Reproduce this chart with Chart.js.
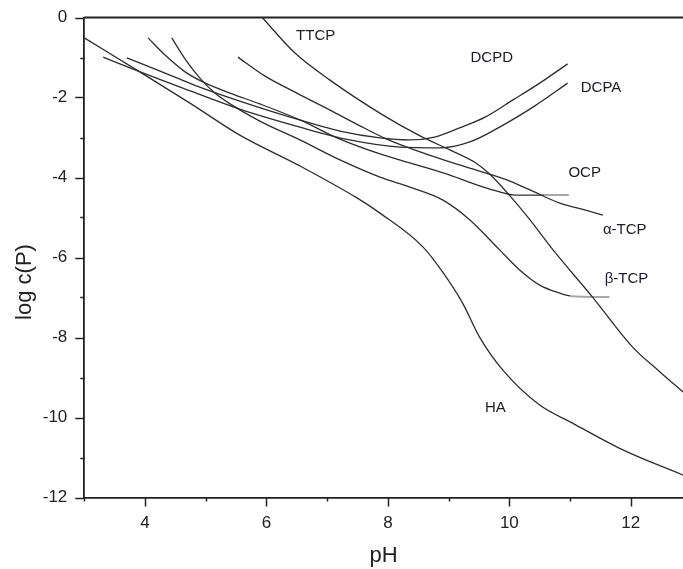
<!DOCTYPE html>
<html>
<head>
<meta charset="utf-8">
<script src="https://cdn.jsdelivr.net/npm/chart.js@4"></script>
<style>
  body { margin: 0; background: #fff; }
  canvas { display: block; }
</style>
</head>
<body>
<canvas id="myLineChart" width="683" height="569"></canvas>
<script>
/* SOLUBILITY ISOTHERMS - log c(P) vs pH */

// pH and log c(P), one pair of arrays per phase
var haPH   = [3.00, 4.00, 4.74, 5.56, 6.55, 7.49, 7.87, 8.58, 8.90, 9.23, 9.51, 9.89, 10.50, 11.04, 11.87, 12.86];
var haLogC = [-0.51, -1.44, -2.14, -2.94, -3.71, -4.51, -4.89, -5.74, -6.36, -7.14, -7.99, -8.81, -9.69, -10.14, -10.81, -11.44];

var ttcpPH   = [5.93, 6.47, 7.04, 7.92, 8.53, 9.02, 9.43, 9.68, 10.01, 10.34, 10.72, 11.37, 12.03, 12.48, 12.86];
var ttcpLogC = [0, -0.89, -1.56, -2.44, -2.96, -3.31, -3.62, -3.92, -4.46, -5.06, -5.81, -6.99, -8.24, -8.86, -9.36];

var dcpdPH   = [3.70, 4.33, 4.90, 5.56, 6.39, 7.21, 7.87, 8.36, 8.77, 9.18, 9.60, 10.06, 10.50, 10.96];
var dcpdLogC = [-1.01, -1.39, -1.74, -2.09, -2.49, -2.84, -3.01, -3.06, -2.99, -2.76, -2.49, -2.06, -1.64, -1.16];

var dcpaPH   = [3.31, 3.92, 4.58, 5.56, 6.55, 7.37, 8.20, 8.86, 9.35, 9.84, 10.42, 10.96];
var dcpaLogC = [-0.99, -1.36, -1.74, -2.29, -2.74, -3.06, -3.24, -3.26, -3.11, -2.74, -2.21, -1.64];

var ocpPH   = [4.05, 4.33, 4.66, 4.95, 5.40, 5.89, 6.55, 7.21, 7.87, 8.53, 9.02, 9.51, 9.84, 10.09, 10.58, 10.98];
var ocpLogC = [-0.51, -0.94, -1.36, -1.61, -1.89, -2.16, -2.56, -3.04, -3.41, -3.71, -3.94, -4.21, -4.36, -4.44, -4.44, -4.44];

var aTcpPH   = [5.53, 5.97, 6.50, 7.04, 7.54, 7.98, 8.53, 9.02, 9.51, 9.96, 10.34, 10.83, 11.24, 11.54];
var aTcpLogC = [-0.99, -1.46, -1.89, -2.31, -2.71, -3.04, -3.36, -3.61, -3.84, -4.06, -4.31, -4.64, -4.81, -4.94];

var bTcpPH   = [4.44, 4.67, 4.90, 5.15, 5.40, 5.89, 6.55, 7.21, 7.87, 8.36, 8.90, 9.35, 9.84, 10.17, 10.50, 10.83, 11.00, 11.65];
var bTcpLogC = [-0.51, -1.06, -1.51, -1.89, -2.16, -2.59, -3.06, -3.56, -3.99, -4.24, -4.56, -5.06, -5.81, -6.31, -6.69, -6.89, -6.96, -6.99];

// axis ranges and tick labels
var xMin = 3, xMax = 12.86;
var yMin = -12, yMax = 0;
var xTickLabels = [4, 6, 8, 10, 12];
var yTickLabels = [0, -2, -4, -6, -8, -10, -12];

// curve names written on the plot (pH, log c)
var curveLabels = [
  { text: 'TTCP',  x: 6.81,  y: -0.46 },
  { text: 'DCPD',  x: 9.71,  y: -1.01 },
  { text: 'DCPA',  x: 11.51, y: -1.76 },
  { text: 'OCP',   x: 11.24, y: -3.89 },
  { text: 'α-TCP', x: 11.90, y: -5.31 },
  { text: 'β-TCP', x: 11.93, y: -6.54 },
  { text: 'HA',    x: 9.77,  y: -9.76 }
];

Chart.defaults.font.family = "'Liberation Sans', Arial, sans-serif";
Chart.defaults.color = '#222';

function toPoints(xs, ys) {
  return xs.map(function (x, i) { return { x: x, y: ys[i] }; });
}

var lineColor = '#2e2e2e';

// last piece of OCP and beta-TCP is drawn in light grey
function curve(label, xs, ys, greyTail) {
  var last = xs.length - 1;
  return {
    label: label,
    data: toPoints(xs, ys),
    showLine: true,
    borderColor: lineColor,
    borderWidth: 1.3,
    pointRadius: 0,
    cubicInterpolationMode: 'monotone',
    segment: {
      borderColor: function (ctx) {
        return (greyTail && ctx.p1DataIndex === last) ? '#a8a8a8' : lineColor;
      },
      borderWidth: function (ctx) {
        return (greyTail && ctx.p1DataIndex === last) ? 2 : 1.3;
      }
    }
  };
}

// top frame line, tick marks (long = labelled, short = minor), curve names, y title
var extras = {
  id: 'extras',
  afterDraw: function (chart) {
    var ctx = chart.ctx;
    var a = chart.chartArea;
    var xs = chart.scales.x, ys = chart.scales.y;
    ctx.save();
    ctx.strokeStyle = '#222';
    ctx.lineWidth = 1.8;
    ctx.beginPath();
    ctx.moveTo(a.left, a.top);
    ctx.lineTo(a.right, a.top);
    ctx.stroke();

    ctx.lineWidth = 1.5;
    for (var v = 3; v <= 12; v++) {
      var px = Math.round(xs.getPixelForValue(v)) + 0.5;
      var len = xTickLabels.indexOf(v) >= 0 ? 9 : 4;
      ctx.beginPath();
      ctx.moveTo(px, a.bottom);
      ctx.lineTo(px, a.bottom + len);
      ctx.stroke();
    }
    for (var w = yMin; w <= yMax; w++) {
      var py = Math.round(ys.getPixelForValue(w)) + 0.5;
      var l2 = yTickLabels.indexOf(w) >= 0 ? 9 : 4;
      ctx.beginPath();
      ctx.moveTo(a.left, py);
      ctx.lineTo(a.left - l2, py);
      ctx.stroke();
    }

    ctx.fillStyle = '#1c1c2a';
    ctx.font = "15px 'Liberation Sans', Arial, sans-serif";
    ctx.textAlign = 'center';
    ctx.textBaseline = 'middle';
    curveLabels.forEach(function (c) {
      ctx.fillText(c.text, xs.getPixelForValue(c.x), ys.getPixelForValue(c.y));
    });

    ctx.translate(25, 282);
    ctx.rotate(-Math.PI / 2);
    ctx.font = "22px 'Liberation Sans', Arial, sans-serif";
    ctx.fillStyle = '#222';
    ctx.fillText('log c(P)', 0, 0);
    ctx.restore();
  }
};

var ctxLine = document.getElementById('myLineChart').getContext('2d');

var myLineChart = new Chart(ctxLine, {
  type: 'scatter',
  data: {
    datasets: [
      curve('HA', haPH, haLogC, false),
      curve('TTCP', ttcpPH, ttcpLogC, false),
      curve('DCPD', dcpdPH, dcpdLogC, false),
      curve('DCPA', dcpaPH, dcpaLogC, false),
      curve('OCP', ocpPH, ocpLogC, true),
      curve('α-TCP', aTcpPH, aTcpLogC, false),
      curve('β-TCP', bTcpPH, bTcpLogC, true)
    ]
  },
  options: {
    responsive: false,
    animation: false,
    layout: { padding: { top: 17.5, left: 0, right: 0, bottom: 0 } },
    plugins: {
      legend: { display: false },
      tooltip: { enabled: false }
    },
    scales: {
      x: {
        type: 'linear',
        min: xMin,
        max: xMax,
        afterFit: function (scale) {
          scale.height = 71.5;
          scale.paddingLeft = 0;
          scale.paddingRight = 0;
        },
        border: { color: '#222', width: 1.8 },
        grid: { display: true, drawOnChartArea: false, drawTicks: false },
        ticks: {
          stepSize: 1,
          includeBounds: false,
          autoSkip: false,
          maxRotation: 0,
          padding: 16,
          font: { size: 17 },
          color: '#222',
          callback: function (value) { return xTickLabels.indexOf(value) >= 0 ? String(value) : ''; }
        },
        title: {
          display: true,
          text: 'pH',
          font: { size: 22 },
          color: '#222',
          padding: 0
        }
      },
      y: {
        type: 'linear',
        min: yMin,
        max: yMax,
        afterFit: function (scale) {
          scale.width = 84.3;
          scale.paddingTop = 0;
          scale.paddingBottom = 0;
        },
        border: { color: '#222', width: 1.8 },
        grid: { display: true, drawOnChartArea: false, drawTicks: false },
        ticks: {
          stepSize: 1,
          autoSkip: false,
          padding: 17,
          font: { size: 17 },
          color: '#222',
          callback: function (value) { return yTickLabels.indexOf(value) >= 0 ? String(value) : ''; }
        }
      }
    }
  },
  plugins: [extras]
});
</script>
</body>
</html>
